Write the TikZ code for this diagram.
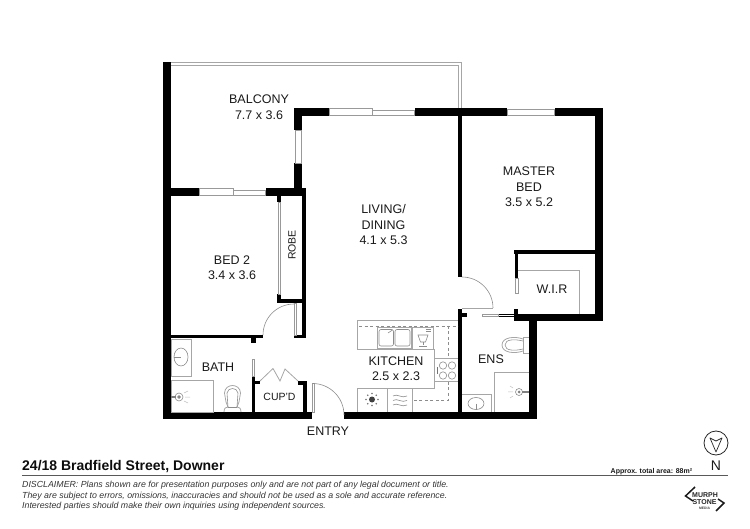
\documentclass[tikz,border=0pt]{standalone}
\usepackage{fontspec}
\setmainfont{Liberation Sans}
\begin{document}
\begin{tikzpicture}[x=1pt,y=-1pt,
  wall/.style={fill=black},
  fix/.style={draw=black!35,line width=0.8pt},
  thin fix/.style={draw=black!45,line width=0.6pt},
  glass/.style={draw=black!40,fill=white,line width=0.8pt},
  dash fix/.style={draw=black!45,line width=0.6pt,dash pattern=on 3pt off 2.5pt},
  room/.style={inner sep=0pt,align=center,text=black!90,font=\fontsize{12.5}{15.5}\selectfont},
  small room/.style={inner sep=0pt,align=center,text=black!90,font=\fontsize{10.5}{13}\selectfont}]
\useasboundingbox (0,0) rectangle (750,529);
% balcony rail
\draw[fix] (171,62.5) -- (461,62.5) -- (461,108);
\draw[fix] (171,65) -- (458.5,65) -- (458.5,108);
% walls
\fill[wall] (163,62) rectangle (171,419);
\fill[wall] (294,108) rectangle (329,116);
\fill[wall] (415,108) rectangle (507,116);
\fill[wall] (555,108) rectangle (603,116);
\fill[wall] (595,108) rectangle (603,321);
\fill[wall] (294,108) rectangle (302,130);
\fill[wall] (294,163) rectangle (302,196);
\fill[wall] (458,116) rectangle (462,277);
\fill[wall] (171,188) rectangle (199,196);
\fill[wall] (266,188) rectangle (306,196);
\fill[wall] (302,193) rectangle (306,338);
\fill[wall] (277,196) rectangle (281,202);
\fill[wall] (277,294) rectangle (281,303);
\fill[wall] (277,299) rectangle (302,303);
\fill[wall] (294,335) rectangle (306,338);
\fill[wall] (171,335) rectangle (263,338.5);
\fill[wall] (251,338) rectangle (255.5,343);
\fill[wall] (252,376) rectangle (255,412);
\fill[wall] (255,381) rectangle (260,384);
\fill[wall] (298,381) rectangle (307,385);
\fill[wall] (303,381) rectangle (307,412);
\fill[wall] (163,412) rectangle (312,419);
\fill[wall] (344,412) rectangle (537,419);
\fill[wall] (458,309) rectangle (462,412);
\fill[wall] (458,313) rectangle (467,317);
\fill[wall] (529,317) rectangle (537,419);
\fill[wall] (514,314) rectangle (603,321);
\fill[wall] (514,309) rectangle (518,316);
\fill[wall] (514,250) rectangle (599,254);
\fill[wall] (515,250) rectangle (518,278);
\fill[wall] (498,314) rectangle (515,315);
\fill[wall] (498,316) rectangle (515,317);
% windows
\draw[glass] (329.5,108.5) rectangle (372,115);
\draw[glass] (372,110) rectangle (414.5,115.5);
\draw[glass] (507.5,109) rectangle (554.5,115.5);
\draw[glass] (295,130) rectangle (301,163);
\draw[glass] (199.5,188.5) rectangle (233,195);
\draw[glass] (233,190) rectangle (265.5,195.5);
% sliding doors and leaves
\draw[glass] (278,202) rectangle (280.5,294);
\draw[glass] (294,303) rectangle (296.5,335);
\draw[glass] (252,359) rectangle (254,376);
\draw[glass] (312.5,383.5) rectangle (314.5,412);
\draw[glass] (515.5,278) rectangle (518,293);
\draw[glass] (482,314.5) rectangle (498,316.5);
% door arcs
\draw[thin fix] (263,335) arc[start angle=180,end angle=90,radius=31pt];
\draw[thin fix] (312.5,383.5) arc[start angle=90,end angle=0,radius=31.5pt];
\draw[thin fix] (462,277) arc[start angle=90,end angle=0,radius=31pt];
\draw[fix] (462,308) -- (493,308);
\draw[fix] (260,381) -- (273,368.5) -- (280,381) -- (285,369) -- (298,381);
% WIR shelf
\draw[fix] (518,270) -- (579,270) -- (579,314);
% bath fittings
\draw[fix] (171,339) rectangle (191,376);
\draw[thin fix] (181,357) ellipse[x radius=7pt,y radius=9pt];
\draw[thin fix] (174,357) -- (181,357);
\draw[fix] (171,380) rectangle (213,412);
\draw[thin fix] (179,397) circle[radius=4pt];
\draw[thin fix,fill=black!50] (179,397) circle[radius=1.5pt];
\draw[draw=black!50,line width=1.4pt] (171,397) -- (176,397);
\draw[draw=black!25,line width=0.5pt] (185,397) -- (190,397) (184,393) -- (188,391) (184,401) -- (188,403);
% bath toilet
\draw[fix] (224,412) .. controls (224,408) and (226,407) .. (228,407) -- (226,402) -- (224.5,393) .. controls (225,383) and (240,383) .. (240.5,393) -- (239,402) -- (237,407) .. controls (239,407) and (241,408) .. (241,412);
\draw[thin fix] (228,407) -- (227,393) .. controls (228,387) and (237,387) .. (238,393) -- (237,407);
\draw[thin fix] (228,407) -- (237,407);
% kitchen benches
\draw[fix] (458,320) -- (357,320) -- (357,349) -- (434,349) -- (434,388) -- (357,388) -- (357,412);
\draw[dash fix] (359,326) -- (458,326);
\draw[dash fix] (448,326) -- (448,358) (448,382) -- (448,400) -- (412,400);
\draw[fix] (434,358) -- (458,358) (434,381.5) -- (458,381.5);
% sink
\draw[fix] (377,327.5) rectangle (411.5,348);
\draw[thin fix,rounded corners=2pt] (379,329.5) rectangle (393.5,346);
\draw[thin fix,rounded corners=2pt] (395,329.5) rectangle (410,346);
\draw[thin fix] (388,333) -- (392.5,330);
% wet bar symbol
\draw[fix] (412,327.5) rectangle (433,349);
\draw[thin fix] (418,335) -- (428,335) -- (425.5,342) -- (420.5,342) -- cycle;
\draw[thin fix] (423,342) -- (423,345) (419,346) -- (427,346);
\draw[thin fix] (426,329.5) -- (431,329.5) (426,331.5) -- (431,331.5);
% hob
\draw[draw=black!55,line width=1pt] (437,367) -- (437,374);
\foreach \hx in {443,452}{\foreach \hy in {365.5,375.5}{\draw[thin fix] (\hx,\hy) circle[radius=3.7pt];}}
% oven and rangehood
\draw[fix] (387,388) -- (387,412) (412,388) -- (412,412);
\fill[black!75] (372,399.5) circle[radius=3pt];
\foreach \a in {0,45,...,315}{\fill[black!55] (372,399.5) ++(\a:6pt) circle[radius=0.9pt];}
\foreach \w in {396,400.5,405}{
 \draw[thin fix] (393,\w) .. controls (397,\w-3) and (402,\w+3) .. (407,\w);}
% ensuite fittings
\draw[fix] (529,337) -- (523,337) -- (523,353) -- (529,353);
\draw[fix] (523,339) .. controls (515,336) and (502,337) .. (502,345) .. controls (502,353) and (515,354) .. (523,351);
\draw[thin fix] (523,341) .. controls (515,339) and (505,339) .. (505,345) .. controls (505,351) and (515,351) .. (523,349);
\draw[fix] (529,372) -- (494,372) -- (494,412);
\draw[thin fix] (519,392) circle[radius=3.5pt];
\fill[black!50] (519,392) circle[radius=1.5pt];
\draw[draw=black!50,line width=1.2pt] (522,392) -- (529,392);
\draw[draw=black!25,line width=0.5pt] (513,392) -- (508,392) (513,388) -- (510,386) (513,396) -- (510,398);
\draw[fix] (462,394) -- (491.5,394) -- (491.5,412);
\draw[thin fix] (476,403.5) ellipse[x radius=8pt,y radius=6pt];
\draw[thin fix] (476,403.5) -- (476,410);
% north arrow
\draw[draw=black!85,line width=0.8pt] (716,443) circle[radius=12pt];
\draw[draw=black!85,line width=0.7pt,line join=round] (710,438) -- (716,452) -- (722,438) -- (716,441) -- cycle;
% title rule
\draw[draw=black!65,line width=0.9pt] (22,475.5) -- (728,475.5);
% logo
\draw[draw=black!90,line width=1.5pt] (695,487) -- (685.5,496) -- (693,501);
\draw[draw=black!90,line width=1.5pt] (718,499) -- (724,503) -- (716,511);
% labels
\node[room] (balcony) at (259,107) {BALCONY\\7.7 x 3.6};
\node[room] (living) at (383.5,225) {LIVING/\\DINING\\4.1 x 5.3};
\node[room] (master) at (529,187) {MASTER\\BED\\3.5 x 5.2};
\node[room] (bed2) at (232,267.5) {BED 2\\3.4 x 3.6};
\node[room] (kitchen) at (396,368.5) {KITCHEN\\2.5 x 2.3};
\node[room] (bath) at (218,367.5) {BATH};
\node[room] (ens) at (491,359) {ENS};
\node[room] (wir) at (552,289) {W.I.R};
\node[small room] (cupd) at (279.5,397) {CUP'D};
\node[room] (entry) at (328,431) {ENTRY};
\node[small room,rotate=90] (robe) at (292,245) {ROBE};
\node[inner sep=0pt,anchor=base west,text=black!95,font=\fontsize{14}{17}\bfseries\selectfont] (title) at (22,470) {24/18 Bradfield Street, Downer};
\node[inner sep=0pt,anchor=north west,align=left,text=black!80,font=\fontsize{8.8}{10.7}\itshape\selectfont] (disc) at (22,481) {DISCLAIMER: Plans shown are for presentation purposes only and are not part of any legal document or title.\\They are subject to errors, omissions, inaccuracies and should not be used as a sole and accurate reference.\\Interested parties should make their own inquiries using independent sources.};
\node[inner sep=0pt,anchor=base west,text=black!90,font=\fontsize{7}{8}\bfseries\selectfont] (area) at (610.5,473) {Approx. total area: 88m²};
\node[inner sep=0pt,text=black!90,font=\fontsize{14}{16}\selectfont] (north) at (716,465.5) {N};
\node[inner sep=0pt,text=black!85,font=\fontsize{7}{8}\bfseries\selectfont] (murph) at (705,495.5) {MURPH};
\node[inner sep=0pt,text=black!85,font=\fontsize{7}{8}\bfseries\selectfont] (stone) at (704.5,502) {STONE};
\node[inner sep=0pt,text=black!75,font=\fontsize{3.4}{4}\bfseries\selectfont] (media) at (704.5,508.5) {MEDIA};
\end{tikzpicture}
\end{document}
